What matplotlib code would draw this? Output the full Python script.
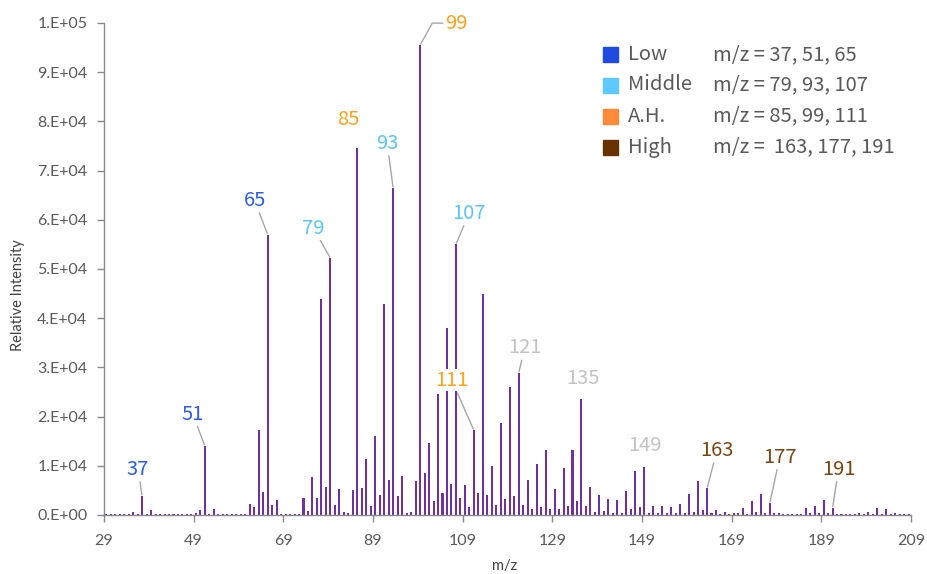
import numpy as np
import matplotlib
matplotlib.use("Agg")
import matplotlib.pyplot as plt
from matplotlib.patches import Rectangle
from matplotlib.ticker import FuncFormatter

# m/z 29 .. 208, one intensity per integer mass
mz = np.arange(29, 209)
intensity = [
    150, 150, 150, 200, 200, 200, 650, 300, 3800, 200,          # 29-38
    1100, 150, 150, 150, 150, 150, 150, 150, 150, 150,          # 39-48
    450, 1100, 14000, 250, 1200, 150, 150, 150, 150, 150,       # 49-58
    150, 150, 2250, 1550, 17250, 4600, 57000, 2100, 3000, 200,  # 59-68
    200, 200, 200, 200, 3450, 900, 7700, 3450, 44000, 5750,     # 69-78
    52200, 2000, 5300, 700, 400, 5100, 74500, 5550, 11400, 1800,  # 79-88
    16100, 4100, 42900, 7200, 66400, 3900, 7850, 400, 700, 7000,  # 89-98
    95500, 8450, 14700, 2800, 24500, 4400, 38000, 6300, 55000, 3450,  # 99-108
    6000, 1550, 17200, 4400, 45000, 4100, 10000, 2000, 18600, 3250,  # 109-118
    26100, 3900, 28900, 2000, 7200, 1150, 10300, 1550, 13300, 1150,  # 119-128
    5300, 1150, 9550, 1850, 13300, 2800, 23600, 1900, 5600, 700,     # 129-138
    4000, 800, 3300, 450, 3050, 450, 4950, 1150, 8950, 1600,         # 139-148
    9800, 450, 1900, 350, 1900, 350, 1600, 350, 2150, 450,           # 149-158
    4250, 700, 6850, 1000, 5400, 450, 950, 200, 700, 200,            # 159-168
    450, 350, 1400, 200, 2850, 700, 4300, 350, 2400, 350,            # 169-178
    450, 250, 300, 200, 300, 200, 1400, 450, 1900, 350,              # 179-188
    3050, 350, 1400, 200, 200, 200, 250, 200, 500, 200,              # 189-198
    700, 250, 1400, 250, 1150, 200, 450, 200, 250, 150,              # 199-208
]

peak_mz = [37, 51, 65, 79, 85, 93, 99, 107, 111, 121, 135, 149, 163, 177, 191]
peak_group = ["Low", "Low", "Low", "Middle", "A.H.", "Middle", "A.H.", "Middle",
              "A.H.", "Other", "Other", "Other", "High", "High", "High"]

legend_names = ["Low", "Middle", "A.H.", "High"]
legend_text = ["m/z = 37, 51, 65", "m/z = 79, 93, 107",
               "m/z = 85, 99, 111", "m/z =  163, 177, 191"]

text_colors = {"Low": "#2E5BE8", "Middle": "#5BC5F7", "A.H.": "#FFA21F",
               "High": "#7A4512", "Other": "#C3C3C3"}
box_colors = {"Low": "#1F4BE0", "Middle": "#5DC9FF", "A.H.": "#FF8B3A",
              "High": "#663300"}

# label offset from bar top in pixels (dx, dy), and whether a leader line is drawn
label_offsets = {37: (-4, 27, True), 51: (-12, 32, True), 65: (-13, 34, True),
                 79: (-17, 30, True), 85: (-9, 29, False), 93: (-6, 45, True),
                 99: (36, 22, True), 107: (13, 31, True), 111: (-22, 50, True),
                 121: (6, 25, True), 135: (2, 20, False), 149: (1, 21, False),
                 163: (10, 38, True), 177: (10, 46, True), 191: (6, 39, True)}

label_font = ["Noto Sans CJK JP", "DejaVu Sans"]
axis_font = ["Lato", "DejaVu Sans"]
axis_grey = "#898989"

fig = plt.figure(figsize=(9.28, 5.74), dpi=100)
ax = fig.add_axes([104 / 928, 59 / 574, 807 / 928, 492 / 574])

ax.bar(mz, intensity, width=0.45, color="#7030A0", linewidth=0, zorder=2)

ax.set_xlim(28.5, 208.5)
ax.set_ylim(0, 1e5)

xt = np.arange(29, 210, 20)
ax.set_xticks(xt - 0.5)
ax.set_xticklabels([str(v) for v in xt])
ax.set_yticks(np.arange(0, 100001, 10000))


def sci_fmt(v, pos):
    if v == 0:
        return "0.E+00"
    e = int(np.floor(np.log10(v)))
    return f"{v / 10 ** e:.0f}.E+{e:02d}"


ax.yaxis.set_major_formatter(FuncFormatter(sci_fmt))

for s in ["top", "right"]:
    ax.spines[s].set_visible(False)
for s in ["left", "bottom"]:
    ax.spines[s].set_color(axis_grey)
    ax.spines[s].set_linewidth(1)
ax.tick_params(direction="out", length=5, width=1, color=axis_grey,
               labelcolor="#595959", labelsize=11.5)
ax.tick_params(axis="x", pad=9)
ax.tick_params(axis="y", pad=7)
for lab in ax.get_xticklabels() + ax.get_yticklabels():
    lab.set_family(axis_font)

# peak labels
for m, g in zip(peak_mz, peak_group):
    v = intensity[m - 29]
    dx, dy, line = label_offsets[m]
    arrow = None
    if line:
        arrow = dict(arrowstyle="-", color="#A6A6A6", lw=1, shrinkA=1, shrinkB=1)
        if m == 99:
            arrow["connectionstyle"] = "angle,angleA=0,angleB=61,rad=0"
    ax.annotate(str(m), xy=(m, v), xytext=(dx, dy), textcoords="offset pixels",
                ha="center", va="center", fontsize=14.5, family=label_font,
                color=text_colors[g], arrowprops=arrow, zorder=4,
                bbox=dict(fc="white", ec="none", pad=0.5))

# legend drawn by hand
row_y = [55, 85, 116, 147]
for name, txt, yp in zip(legend_names, legend_text, row_y):
    fig.add_artist(Rectangle((603 / 928, 1 - (yp + 7.5) / 574), 15 / 928, 15 / 574,
                             transform=fig.transFigure, color=box_colors[name]))
    fig.text(628 / 928, 1 - yp / 574, name, ha="left", va="center",
             fontsize=14.5, family=label_font, color="#595959")
    fig.text(713 / 928, 1 - yp / 574, txt, ha="left", va="center",
             fontsize=14.5, family=label_font, color="#595959")

fig.text(18 / 928, 1 - 295 / 574, "Relative Intensity", rotation=90,
         ha="center", va="center", fontsize=10.5, family=axis_font, color="#404040")
fig.text(505 / 928, 1 - 566 / 574, "m/z", ha="center", va="center",
         fontsize=10.5, family=axis_font, color="#404040")

fig.savefig("out.png", dpi=100, facecolor="white")
